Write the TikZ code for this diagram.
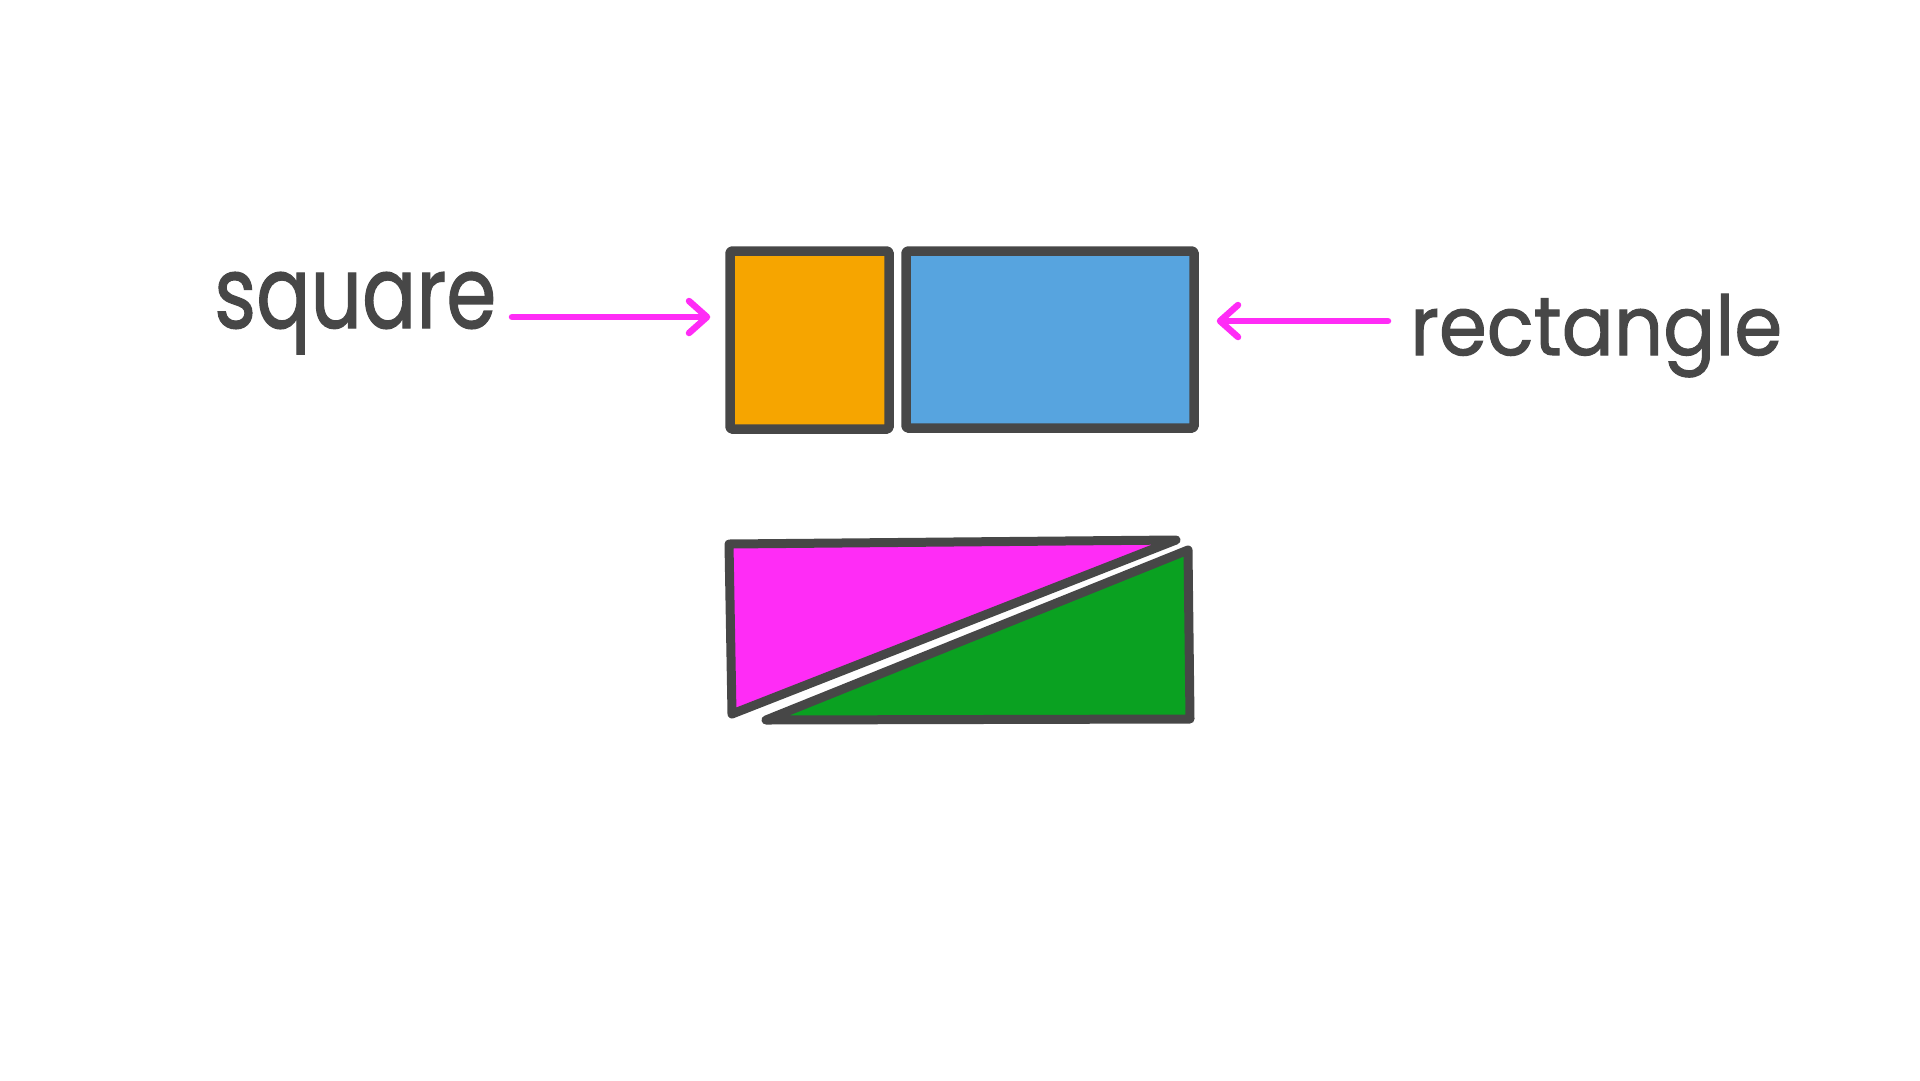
\documentclass[tikz,border=0pt]{standalone}
\usepackage{fontspec}
\setmainfont{Poppins}
\newfontfamily\hand[FakeBold=1.3]{Poppins}
\usetikzlibrary{arrows.meta}
\definecolor{ink}{HTML}{474747}
\definecolor{orng}{HTML}{F6A500}
\definecolor{skyb}{HTML}{57A4DF}
\definecolor{magn}{HTML}{FF2CF6}
\definecolor{grn}{HTML}{0AA121}
\tikzset{
  shapebox/.style={draw=ink, line width=9.5pt, inner sep=0pt, rounded corners=1.5pt, line join=round},
  tri/.style={draw=ink, line width=9pt, line join=round, line cap=round},
  arr/.style={draw=magn, line width=6.5pt, line cap=round,
    -{Straight Barb[length=18pt,width=32pt,round]}},
  lbl/.style={text=ink, inner sep=0pt, anchor=base west, font=\hand}
}
\begin{document}
\begin{tikzpicture}[x=1pt,y=-1pt]
\useasboundingbox[fill=white] (0,0) rectangle (1920,1080);
% top shapes
\node[shapebox, fill=orng, minimum width=159pt, minimum height=178pt] (sq) at (809.5,340) {};
\node[shapebox, fill=skyb, minimum width=288pt, minimum height=177pt] (rect) at (1050,339.5) {};
% labels
\node[lbl] (lsq) at (214,328) {\resizebox{282pt}{56pt}{square}};
\node[lbl] (lrect) at (1410,355) {\resizebox{372pt}{61pt}{rectangle}};
% arrows
\coordinate (s1) at (512,317);
\coordinate (s2) at (1388,321);
\draw[arr, shorten >=15pt] (s1) -- (s1 -| sq.west);
\draw[arr, shorten >=18pt] (s2) -- (s2 -| rect.east);
% bottom split rectangle
\draw[tri, fill=magn] (729,544) -- (1176,540) -- (732,714) -- cycle;
\draw[tri, fill=grn] (1188,550) -- (1190,719) -- (766,720) -- cycle;
\end{tikzpicture}
\end{document}
